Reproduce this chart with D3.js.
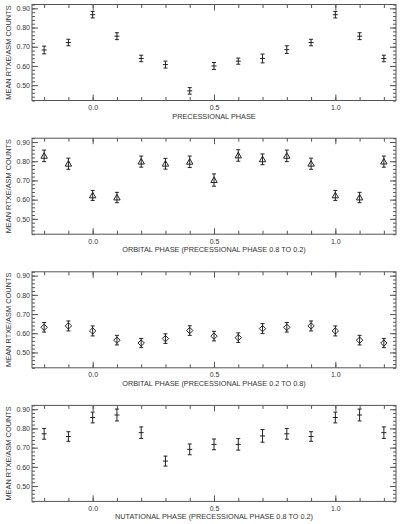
<!DOCTYPE html>
<html><head><meta charset="utf-8">
<script src="https://cdn.jsdelivr.net/npm/d3@7"></script>
<style>
body{margin:0;background:#fff}
svg{display:block}
text{font-family:"Liberation Sans",Arial,Helvetica,sans-serif;fill:#333}
</style>
</head><body><svg id="c" width="400" height="524"></svg>
<script>
// ---- data ----
const phases = [-0.2,-0.1,0.0,0.1,0.2,0.3,0.4,0.5,0.6,0.7,0.8,0.9,1.0,1.1,1.2];

const precessionalValues = [0.683,0.722,0.867,0.755,0.639,0.607,0.470,0.600,0.625,0.639,0.685,0.722,0.867,0.755,0.639];
const precessionalErrors = [0.020,0.017,0.017,0.018,0.017,0.018,0.017,0.018,0.016,0.023,0.020,0.017,0.017,0.018,0.017];

const orbitalHighValues = [0.828,0.787,0.622,0.611,0.798,0.787,0.797,0.702,0.830,0.810,0.828,0.787,0.622,0.611,0.798];
const orbitalHighErrors = [0.030,0.029,0.026,0.027,0.029,0.028,0.030,0.032,0.030,0.028,0.030,0.029,0.026,0.027,0.029];

const orbitalLowValues = [0.631,0.638,0.612,0.564,0.549,0.572,0.614,0.585,0.577,0.624,0.631,0.638,0.612,0.564,0.549];
const orbitalLowErrors = [0.025,0.026,0.026,0.025,0.024,0.025,0.025,0.025,0.025,0.026,0.025,0.026,0.026,0.025,0.024];

const nutationalValues = [0.772,0.758,0.857,0.870,0.778,0.630,0.691,0.717,0.717,0.761,0.772,0.758,0.857,0.870,0.778];
const nutationalErrors = [0.028,0.025,0.028,0.031,0.030,0.026,0.028,0.028,0.030,0.033,0.028,0.025,0.028,0.031,0.030];

const xTickValues = [0.0,0.5,1.0];
const xTickLabels = ["0.0","0.5","1.0"];
const yTickValues = [0.5,0.6,0.7,0.8,0.9];
const yTickLabels = ["0.50","0.60","0.70","0.80","0.90"];
const yAxisTitle = "MEAN RTXE/ASM COUNTS";
const xAxisTitles = [
  "PRECESSIONAL PHASE",
  "ORBITAL PHASE (PRECESSIONAL PHASE 0.8 TO 0.2)",
  "ORBITAL PHASE (PRECESSIONAL PHASE 0.2 TO 0.8)",
  "NUTATIONAL PHASE (PRECESSIONAL PHASE 0.8 TO 0.2)"
];

// ---- layout ----
const panels = [
  {values:precessionalValues, errors:precessionalErrors, marker:"plus", bottom:100.5},
  {values:orbitalHighValues, errors:orbitalHighErrors, marker:"triangle", bottom:234.2},
  {values:orbitalLowValues, errors:orbitalLowErrors, marker:"diamond", bottom:367.8},
  {values:nutationalValues, errors:nutationalErrors, marker:"plus", bottom:501.4}
];
const left = 32, right = 396, panelH = 96;
const xDomain = [-0.25, 1.25], yDomain = [0.42, 0.92];
const ink = "#222", frameCol = "#555";

const svg = d3.select("#c");
const x = d3.scaleLinear().domain(xDomain).range([left, right]);
const xMinor = d3.range(-2, 13).map(i => i / 10);
const yMinor = d3.range(21, 47).map(i => i / 50);

panels.forEach((p, pi) => {
  const top = p.bottom - panelH;
  const y = d3.scaleLinear().domain(yDomain).range([p.bottom, top]);
  const g = svg.append("g");

  // frame
  g.append("rect").attr("x", left).attr("y", top).attr("width", right - left).attr("height", panelH)
    .attr("fill", "none").attr("stroke", frameCol).attr("stroke-width", 1);

  const style = sel => { sel.select(".domain").remove(); sel.selectAll("line").attr("stroke", frameCol); };

  // x minor ticks
  g.append("g").attr("transform", `translate(0,${p.bottom})`)
    .call(d3.axisBottom(x).tickValues(xMinor).tickSize(-3.5).tickSizeOuter(0).tickFormat("")).call(style);
  g.append("g").attr("transform", `translate(0,${top})`)
    .call(d3.axisTop(x).tickValues(xMinor).tickSize(-3.5).tickSizeOuter(0).tickFormat("")).call(style);
  // x major ticks
  const xb = g.append("g").attr("transform", `translate(0,${p.bottom})`)
    .call(d3.axisBottom(x).tickValues(xTickValues).tickSize(-6).tickSizeOuter(0).tickPadding(4.5)
      .tickFormat((d, i) => xTickLabels[i])).call(style);
  xb.selectAll("text").attr("font-size", 7).attr("fill", "#333");
  g.append("g").attr("transform", `translate(0,${top})`)
    .call(d3.axisTop(x).tickValues(xTickValues).tickSize(-6).tickSizeOuter(0).tickFormat("")).call(style);

  // y minor ticks
  g.append("g").attr("transform", `translate(${left},0)`)
    .call(d3.axisLeft(y).tickValues(yMinor).tickSize(-3).tickSizeOuter(0).tickFormat("")).call(style);
  g.append("g").attr("transform", `translate(${right},0)`)
    .call(d3.axisRight(y).tickValues(yMinor).tickSize(-3).tickSizeOuter(0).tickFormat("")).call(style);
  // y major ticks
  const yl = g.append("g").attr("transform", `translate(${left},0)`)
    .call(d3.axisLeft(y).tickValues(yTickValues).tickSize(-6).tickSizeOuter(0).tickPadding(2)
      .tickFormat((d, i) => yTickLabels[i])).call(style);
  yl.selectAll("text").attr("font-size", 7).attr("fill", "#333");
  g.append("g").attr("transform", `translate(${right},0)`)
    .call(d3.axisRight(y).tickValues(yTickValues).tickSize(-6).tickSizeOuter(0).tickFormat("")).call(style);
  svg.selectAll(".tick text").attr("font-family", null);

  // titles
  g.append("text").attr("x", (left + right) / 2).attr("y", p.bottom + 18)
    .attr("text-anchor", "middle").attr("font-size", 7.3).text(xAxisTitles[pi]);
  g.append("text").attr("transform", `translate(10.5,${(top + p.bottom) / 2}) rotate(-90)`)
    .attr("text-anchor", "middle").attr("font-size", 7.4).text(yAxisTitle);

  // data
  const pts = phases.map((ph, i) => ({ph, v: p.values[i], e: p.errors[i]}));
  const dg = g.append("g").attr("stroke", ink).attr("stroke-width", 1).attr("fill", "none");
  const cap = 2;
  pts.forEach(d => {
    const cx = x(d.ph), cy = y(d.v), y1 = y(d.v + d.e), y2 = y(d.v - d.e);
    dg.append("line").attr("x1", cx).attr("x2", cx).attr("y1", y1).attr("y2", y2);
    dg.append("line").attr("x1", cx - cap).attr("x2", cx + cap).attr("y1", y1).attr("y2", y1);
    dg.append("line").attr("x1", cx - cap).attr("x2", cx + cap).attr("y1", y2).attr("y2", y2);
    if (p.marker === "plus") {
      dg.append("line").attr("x1", cx - 2.5).attr("x2", cx + 2.5).attr("y1", cy).attr("y2", cy);
    } else if (p.marker === "triangle") {
      const s = 3.2;
      dg.append("path").attr("d", `M${cx},${cy - s}L${cx + s},${cy + s * 0.75}L${cx - s},${cy + s * 0.75}Z`);
    } else {
      const s = 3.2;
      dg.append("path").attr("d", `M${cx},${cy - s}L${cx + s},${cy}L${cx},${cy + s}L${cx - s},${cy}Z`);
    }
  });
});
</script>
</body></html>
